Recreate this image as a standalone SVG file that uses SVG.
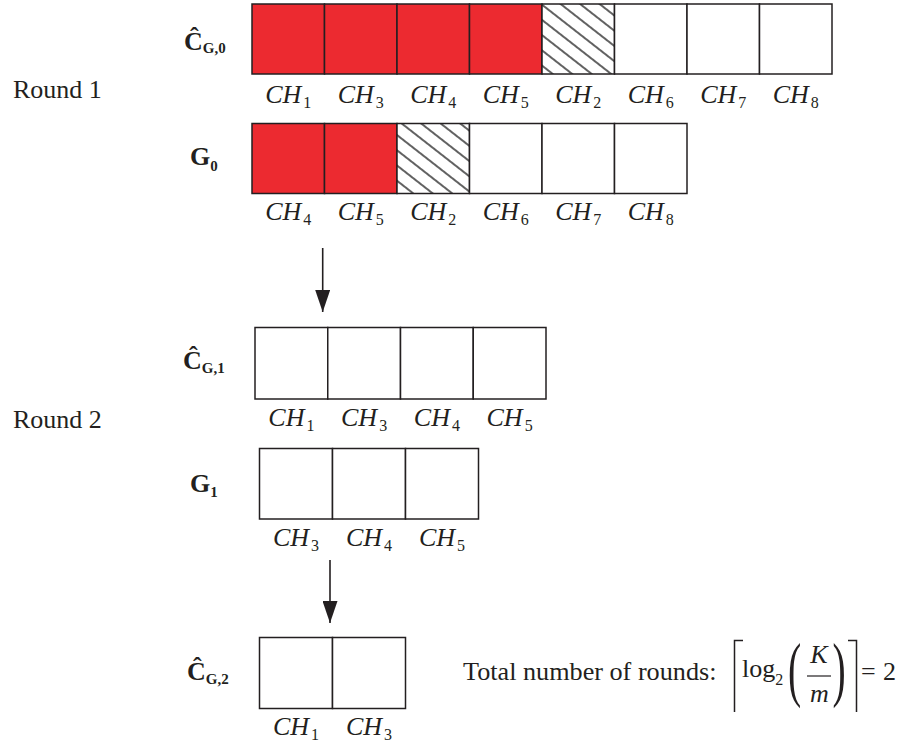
<svg xmlns="http://www.w3.org/2000/svg" width="903" height="747" viewBox="0 0 903 747">
  <style>
    text { font-family: "Liberation Serif", "Times New Roman", serif; fill: #231f20; }
    .cell { stroke: #231f20; stroke-width: 1.5; fill: #ffffff; }
    .red { fill: #ec2a30; }
    .hatch { fill: url(#hatch); }
    .ch { font-size: 26px; font-style: italic; text-anchor: middle; }
    .sub { font-size: 16px; font-style: normal; }
    .lab { font-size: 26px; font-weight: bold; }
    .lsub { font-size: 15px; font-weight: bold; }
    .plain { font-size: 26.2px; }
    .conn { stroke: #231f20; stroke-width: 1.6; fill: none; }
    .bracket { stroke: #231f20; stroke-width: 1.5; fill: none; }
  </style>
  <defs>
    <pattern id="hatch" patternUnits="userSpaceOnUse" width="12" height="12" patternTransform="rotate(38)">
      <rect width="12" height="12" fill="#ffffff"/>
      <line x1="0" y1="6" x2="12" y2="6" stroke="#1e1e1e" stroke-width="1.4"/>
    </pattern>
    <marker id="head" viewBox="0 0 22 15" refX="22" refY="7.5" markerWidth="22" markerHeight="15" markerUnits="userSpaceOnUse" orient="auto">
      <path d="M0,0 L22,7.5 L0,15 Z" fill="#231f20"/>
    </marker>
  </defs>

  <!-- row labels -->
  <text x="13" y="98" font-size="26">Round 1</text>
  <text x="13" y="428" font-size="26">Round 2</text>

  <!-- C^_{G,0}: 8 channels -->
  <g id="cg0">
    <text class="lab" x="184" y="50">Ĉ<tspan class="lsub" dy="3">G,0</tspan></text>
    <rect class="cell red" x="252" y="4" width="72.5" height="70"/>
    <rect class="cell red" x="324.5" y="4" width="72.5" height="70"/>
    <rect class="cell red" x="397" y="4" width="72.5" height="70"/>
    <rect class="cell red" x="469.5" y="4" width="72.5" height="70"/>
    <rect class="cell hatch" x="542" y="4" width="72.5" height="70"/>
    <rect class="cell" x="614.5" y="4" width="72.5" height="70"/>
    <rect class="cell" x="687" y="4" width="72.5" height="70"/>
    <rect class="cell" x="759.5" y="4" width="72.5" height="70"/>
    <text class="ch" x="288.25" y="103">CH<tspan class="sub" dx="2" dy="5">1</tspan></text>
    <text class="ch" x="360.75" y="103">CH<tspan class="sub" dx="2" dy="5">3</tspan></text>
    <text class="ch" x="433.25" y="103">CH<tspan class="sub" dx="2" dy="5">4</tspan></text>
    <text class="ch" x="505.75" y="103">CH<tspan class="sub" dx="2" dy="5">5</tspan></text>
    <text class="ch" x="578.25" y="103">CH<tspan class="sub" dx="2" dy="5">2</tspan></text>
    <text class="ch" x="650.75" y="103">CH<tspan class="sub" dx="2" dy="5">6</tspan></text>
    <text class="ch" x="723.25" y="103">CH<tspan class="sub" dx="2" dy="5">7</tspan></text>
    <text class="ch" x="795.75" y="103">CH<tspan class="sub" dx="2" dy="5">8</tspan></text>
  </g>

  <!-- G_0: 6 channels -->
  <g id="g0">
    <text class="lab" x="190" y="165">G<tspan class="lsub" dy="6">0</tspan></text>
    <rect class="cell red" x="252" y="123.5" width="72.5" height="70"/>
    <rect class="cell red" x="324.5" y="123.5" width="72.5" height="70"/>
    <rect class="cell hatch" x="397" y="123.5" width="72.5" height="70"/>
    <rect class="cell" x="469.5" y="123.5" width="72.5" height="70"/>
    <rect class="cell" x="542" y="123.5" width="72.5" height="70"/>
    <rect class="cell" x="614.5" y="123.5" width="72.5" height="70"/>
    <text class="ch" x="288.25" y="220">CH<tspan class="sub" dx="2" dy="5">4</tspan></text>
    <text class="ch" x="360.75" y="220">CH<tspan class="sub" dx="2" dy="5">5</tspan></text>
    <text class="ch" x="433.25" y="220">CH<tspan class="sub" dx="2" dy="5">2</tspan></text>
    <text class="ch" x="505.75" y="220">CH<tspan class="sub" dx="2" dy="5">6</tspan></text>
    <text class="ch" x="578.25" y="220">CH<tspan class="sub" dx="2" dy="5">7</tspan></text>
    <text class="ch" x="650.75" y="220">CH<tspan class="sub" dx="2" dy="5">8</tspan></text>
  </g>

  <!-- C^_{G,1}: 4 channels -->
  <g id="cg1">
    <text class="lab" x="183" y="369">Ĉ<tspan class="lsub" dy="4">G,1</tspan></text>
    <rect class="cell" x="255" y="327.5" width="72.75" height="71.5"/>
    <rect class="cell" x="327.75" y="327.5" width="72.75" height="71.5"/>
    <rect class="cell" x="400.5" y="327.5" width="72.75" height="71.5"/>
    <rect class="cell" x="473.25" y="327.5" width="72.75" height="71.5"/>
    <text class="ch" x="291.4" y="426">CH<tspan class="sub" dx="2" dy="5">1</tspan></text>
    <text class="ch" x="364.1" y="426">CH<tspan class="sub" dx="2" dy="5">3</tspan></text>
    <text class="ch" x="436.9" y="426">CH<tspan class="sub" dx="2" dy="5">4</tspan></text>
    <text class="ch" x="509.6" y="426">CH<tspan class="sub" dx="2" dy="5">5</tspan></text>
  </g>

  <!-- G_1: 3 channels -->
  <g id="g1">
    <text class="lab" x="190" y="492">G<tspan class="lsub" dy="5">1</tspan></text>
    <rect class="cell" x="259.5" y="448.5" width="73" height="70.5"/>
    <rect class="cell" x="332.5" y="448.5" width="73" height="70.5"/>
    <rect class="cell" x="405.5" y="448.5" width="73" height="70.5"/>
    <text class="ch" x="296" y="546">CH<tspan class="sub" dx="2" dy="5">3</tspan></text>
    <text class="ch" x="369" y="546">CH<tspan class="sub" dx="2" dy="5">4</tspan></text>
    <text class="ch" x="442" y="546">CH<tspan class="sub" dx="2" dy="5">5</tspan></text>
  </g>

  <!-- C^_{G,2}: 2 channels -->
  <g id="cg2">
    <text class="lab" x="187" y="680">Ĉ<tspan class="lsub" dy="4">G,2</tspan></text>
    <rect class="cell" x="259.5" y="637.5" width="73" height="71"/>
    <rect class="cell" x="332.5" y="637.5" width="73" height="71"/>
    <text class="ch" x="296" y="735">CH<tspan class="sub" dx="2" dy="5">1</tspan></text>
    <text class="ch" x="369" y="735">CH<tspan class="sub" dx="2" dy="5">3</tspan></text>
  </g>

  <!-- round transitions -->
  <g id="connectors">
    <line class="conn" x1="322.7" y1="248" x2="322.7" y2="312" marker-end="url(#head)"/>
    <line class="conn" x1="330" y1="560" x2="330" y2="623" marker-end="url(#head)"/>
  </g>

  <!-- round count formula -->
  <g id="formula">
    <text class="plain" x="463" y="680">Total number of rounds:</text>
    <path class="bracket" d="M743,640.5 H734.5 V712"/>
    <path class="bracket" d="M848,640.5 H856.5 V712"/>
    <text x="742" y="677" font-size="26">log<tspan font-size="16" dy="8">2</tspan></text>
    <text transform="translate(788,0) scale(0.55,1)" x="0" y="693" font-size="72">(</text>
    <text transform="translate(832.5,0) scale(0.55,1)" x="0" y="693" font-size="72">)</text>
    <text x="819" y="663" font-size="26" font-style="italic" text-anchor="middle">K</text>
    <line x1="807" y1="676" x2="831" y2="676" stroke="#231f20" stroke-width="1.2"/>
    <text x="819.5" y="702" font-size="26" font-style="italic" text-anchor="middle">m</text>
    <text x="861" y="680" font-size="26">=</text>
    <text x="883" y="680" font-size="26">2</text>
  </g>
</svg>
